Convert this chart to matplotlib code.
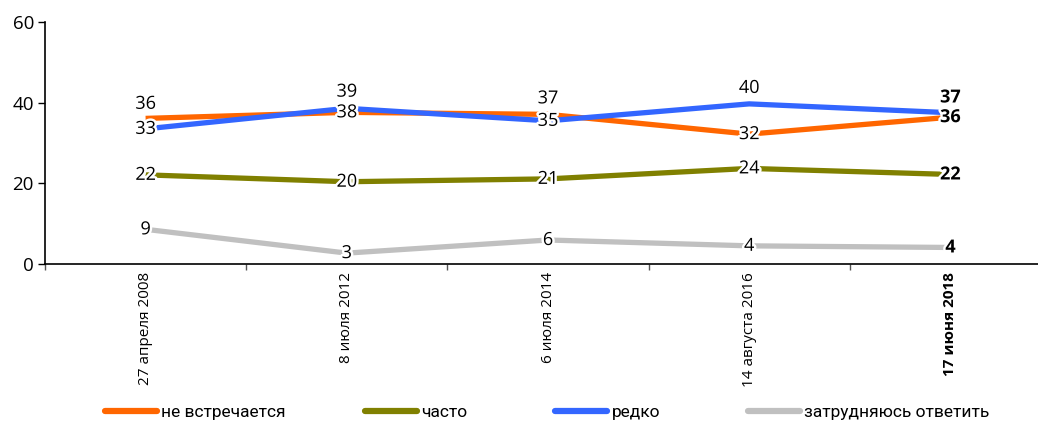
import matplotlib
matplotlib.use("Agg")
import matplotlib.pyplot as plt
import matplotlib.patheffects as pe
from matplotlib.lines import Line2D

# ---- data ----
dates = ["27 апреля 2008", "8 июля 2012", "6 июля 2014", "14 августа 2016", "17 июня 2018"]
series_names = ["не встречается", "часто", "редко", "затрудняюсь ответить"]
ne_vstrechaetsya = [36.1, 37.6, 37.1, 32.2, 36.4]
chasto = [22.1, 20.4, 21.1, 23.7, 22.2]
redko = [33.5, 38.6, 35.5, 39.7, 37.5]
zatrudnyayus = [8.6, 2.7, 5.95, 4.5, 4.1]
labels_ne = ["36", "38", "37", "32", "36"]
labels_chasto = ["22", "20", "21", "24", "22"]
labels_redko = ["33", "39", "35", "40", "37"]
labels_zatr = ["9", "3", "6", "4", "4"]
y_ticks = [0, 20, 40, 60]

# ---- style ----
colors = ["#FF6600", "#808000", "#3366FF", "#C0C0C0"]
# label vertical offsets (points): 0 = centred on point, >0 above
offs_ne = [10.5, 0, 11.5, 0, 0]
offs_chasto = [0, 0, 0, 0, 0]
offs_redko = [0, 12, 0, 11.5, 11]
offs_zatr = [0, 0, 0, 0, 0]

FONT = ["Open Sans", "DejaVu Sans"]
NARROW = ["Roboto", "DejaVu Sans"]

fig = plt.figure(figsize=(10.38, 4.24), dpi=100)
ax = fig.add_axes([45 / 1038, (424 - 264) / 424, 1006 / 1038, 242 / 424])

x = list(range(len(dates)))
all_vals = [ne_vstrechaetsya, chasto, redko, zatrudnyayus]
all_labels = [labels_ne, labels_chasto, labels_redko, labels_zatr]
all_offs = [offs_ne, offs_chasto, offs_redko, offs_zatr]

lines = []
for vals, col, name in zip(all_vals, colors, series_names):
    ln, = ax.plot(x, vals, color=col, lw=3.8, solid_capstyle="butt", label=name, zorder=2)
    lines.append(ln)

halo = [pe.withStroke(linewidth=3.5, foreground="white")]
for vals, labs, offs in zip(all_vals, all_labels, all_offs):
    for i, (v, lab, o) in enumerate(zip(vals, labs, offs)):
        ax.annotate(lab, (x[i], v), xytext=(0, o), textcoords="offset points",
                    ha="center", va="center", fontsize=13, family=FONT,
                    fontweight="bold" if i == len(vals) - 1 else "normal",
                    path_effects=halo, zorder=5)

ax.set_xlim(-0.5, len(dates) - 0.5)
ax.set_ylim(0, 60)
ax.set_yticks(y_ticks)
ax.set_yticklabels([str(t) for t in y_ticks], family=FONT, fontsize=13.5)
ax.tick_params(axis="y", direction="out", length=5, width=1, pad=3)

ax.set_xticks(x)
ax.set_xticklabels(dates, rotation=90, family=FONT, fontsize=11, va="top", ha="center")
ax.get_xticklabels()[-1].set_fontweight("bold")
ax.tick_params(axis="x", which="major", length=0, pad=6)
ax.set_xticks([i - 0.5 for i in range(len(dates) + 1)], minor=True)
ax.tick_params(axis="x", which="minor", direction="out", length=4, width=1, color="#555555")

for s in ["top", "right"]:
    ax.spines[s].set_visible(False)
for s in ["left", "bottom"]:
    ax.spines[s].set_linewidth(1.2)
    ax.spines[s].set_color("black")

# legend entries
leg_x = [105, 365, 555, 748]
for ln, lx in zip(lines, leg_x):
    h = Line2D([], [], color=ln.get_color(), lw=4.5, solid_capstyle="round")
    fig.legend(handles=[h], labels=[ln.get_label()], loc="center left",
               bbox_to_anchor=(lx / 1038, 1 - 412 / 424), frameon=False,
               prop={"family": NARROW, "size": 12.5}, handlelength=3.0,
               handletextpad=0.25, borderpad=0, borderaxespad=0)

fig.savefig("out.png", dpi=100)
